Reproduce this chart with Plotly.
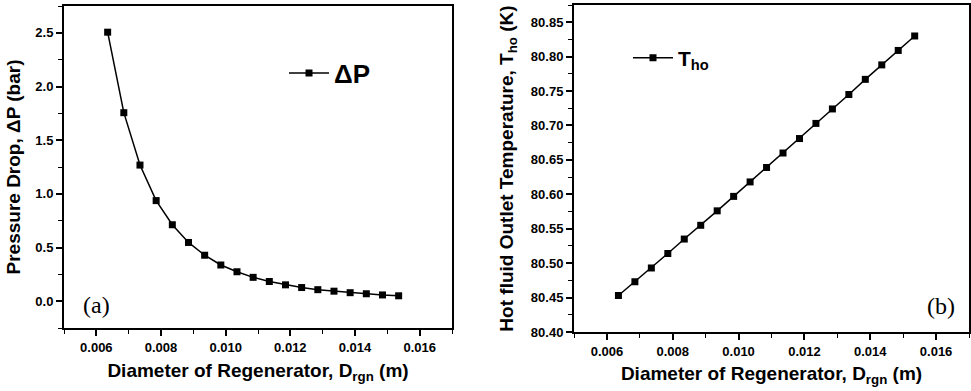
import plotly.graph_objects as go

# Data
diameter = [0.00635, 0.00685, 0.00735, 0.00785, 0.00835, 0.00885, 0.00935, 0.00985,
            0.01035, 0.01085, 0.01135, 0.01185, 0.01235, 0.01285, 0.01335, 0.01385,
            0.01435, 0.01485, 0.01535]
pressure_drop = [2.506, 1.756, 1.268, 0.937, 0.712, 0.547, 0.428, 0.337, 0.274, 0.222,
                 0.183, 0.152, 0.127, 0.107, 0.093, 0.079, 0.069, 0.058, 0.050]
t_ho = [80.453, 80.473, 80.493, 80.514, 80.535, 80.555, 80.576, 80.597, 80.618, 80.639,
        80.660, 80.681, 80.703, 80.724, 80.745, 80.767, 80.788, 80.809, 80.830]

x_ticks = [0.006, 0.008, 0.010, 0.012, 0.014, 0.016]
x_labels = ["0.006", "0.008", "0.010", "0.012", "0.014", "0.016"]
dp_ticks = [0.0, 0.5, 1.0, 1.5, 2.0, 2.5]
dp_labels = ["0.0", "0.5", "1.0", "1.5", "2.0", "2.5"]
t_ticks = [80.40, 80.45, 80.50, 80.55, 80.60, 80.65, 80.70, 80.75, 80.80, 80.85]
t_labels = ["80.40", "80.45", "80.50", "80.55", "80.60", "80.65", "80.70", "80.75", "80.80", "80.85"]

FONT = "Liberation Sans"
W, H = 971, 391


def fx(px):
    return px / W


def fy(py):
    return 1 - py / H


def bold(lst):
    return ["<b>%s</b>" % s for s in lst]


fig = go.Figure()
fig.add_trace(go.Scatter(
    x=diameter, y=pressure_drop, mode="lines+markers", name="<b>ΔP</b>",
    line=dict(color="black", width=1.5),
    marker=dict(symbol="square", size=7, color="black"),
    xaxis="x", yaxis="y", legend="legend"))
fig.add_trace(go.Scatter(
    x=diameter, y=t_ho, mode="lines+markers", name="<b>T<sub>ho</sub></b>",
    line=dict(color="black", width=1.5),
    marker=dict(symbol="square", size=7, color="black"),
    xaxis="x2", yaxis="y2", legend="legend2"))

axis_common = dict(
    showline=True, linecolor="black", linewidth=2, mirror=True,
    ticks="outside", ticklen=6, tickwidth=1.5, tickcolor="black",
    showgrid=False, zeroline=False, automargin=False,
    tickfont=dict(family=FONT, size=13, color="black"),
    title_font=dict(family=FONT, size=19, color="black"),
)
minor_x = dict(dtick=0.001, tick0=0.005, ticks="outside", ticklen=4, tickwidth=1.2, tickcolor="black")

fig.update_layout(
    width=W, height=H,
    margin=dict(l=0, r=0, t=0, b=0, pad=0),
    paper_bgcolor="white", plot_bgcolor="white",
    xaxis=dict(domain=[fx(64), fx(452)], anchor="y", range=[0.005, 0.017],
               tickvals=x_ticks, ticktext=bold(x_labels), minor=minor_x,
               title=dict(text="<b>Diameter of Regenerator, D<sub>rgn</sub> (m)</b>", standoff=10),
               **axis_common),
    yaxis=dict(domain=[fy(328), fy(6)], anchor="x", range=[-0.25, 2.75],
               tickvals=dp_ticks, ticktext=bold(dp_labels),
               minor=dict(dtick=0.25, tick0=-0.25, ticks="outside", ticklen=4, tickwidth=1.2, tickcolor="black"),
               title=dict(text="<b>Pressure Drop, ΔP (bar)</b>", standoff=10),
               **axis_common),
    xaxis2=dict(domain=[fx(574), fx(969)], anchor="y2", range=[0.005, 0.017],
                tickvals=x_ticks, ticktext=bold(x_labels), minor=minor_x,
                title=dict(text="<b>Diameter of Regenerator, D<sub>rgn</sub> (m)</b>", standoff=9),
                **axis_common),
    yaxis2=dict(domain=[fy(332), fy(5)], anchor="x2", range=[80.40, 80.875],
                tickvals=t_ticks, ticktext=bold(t_labels),
                minor=dict(dtick=0.025, tick0=80.40, ticks="outside", ticklen=4, tickwidth=1.2, tickcolor="black"),
                title=dict(text="<b>Hot fluid Outlet Temperature, T<sub>ho</sub> (K)</b>", standoff=12),
                **axis_common),
    legend=dict(x=fx(284), y=fy(73), xanchor="left", yanchor="middle", itemwidth=40,
                bgcolor="rgba(0,0,0,0)", font=dict(family=FONT, size=26, color="black")),
    legend2=dict(x=fx(628), y=fy(58), xanchor="left", yanchor="middle", itemwidth=40,
                 bgcolor="rgba(0,0,0,0)", font=dict(family=FONT, size=21, color="black")),
    annotations=[
        dict(text="(a)", x=fx(81), y=fy(305), xref="paper", yref="paper",
             xanchor="left", yanchor="middle", showarrow=False,
             font=dict(family="Liberation Serif", size=24, color="black")),
        dict(text="(b)", x=fx(957), y=fy(306), xref="paper", yref="paper",
             xanchor="right", yanchor="middle", showarrow=False,
             font=dict(family="Liberation Serif", size=24, color="black")),
    ],
    showlegend=True,
)

fig.write_html("out.html", config={"displayModeBar": False},
               post_script="document.body.style.margin='0px';")
